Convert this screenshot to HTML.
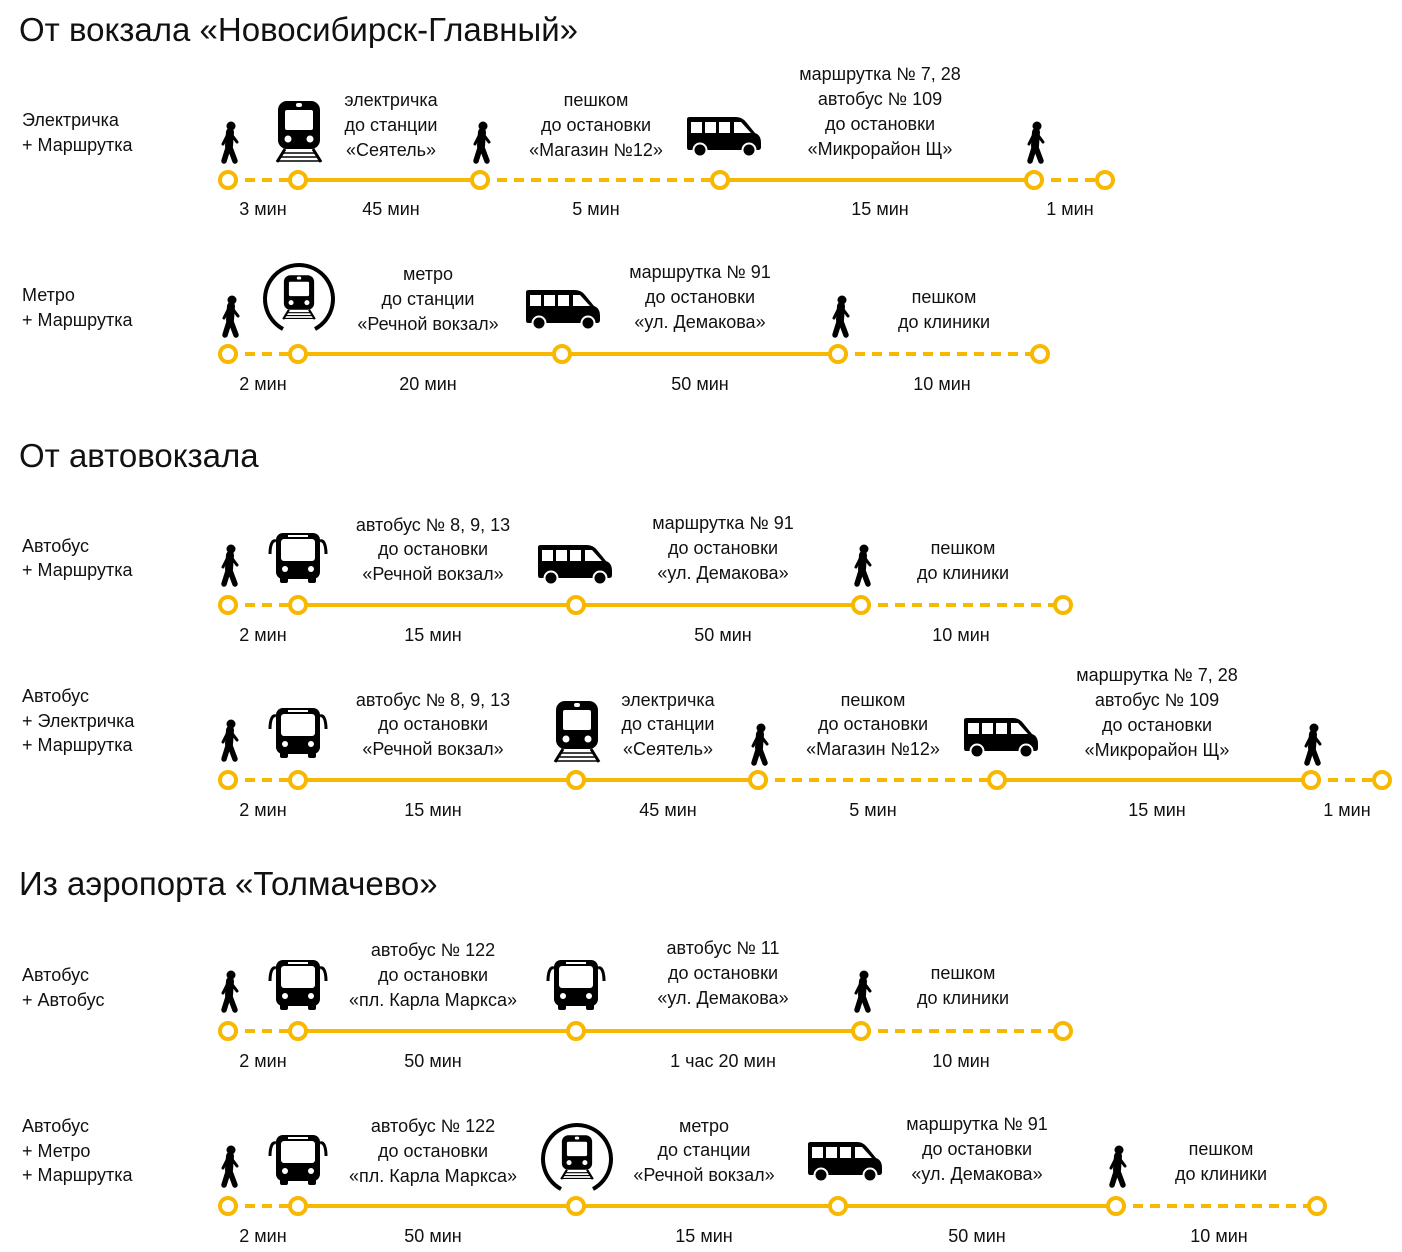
<!DOCTYPE html>
<html><head><meta charset="utf-8"><style>
html,body{margin:0;padding:0;background:#fff}
svg{display:block}
text{font-family:"Liberation Sans",sans-serif;fill:#111}
.t{font-size:33px}
.l{font-size:18px}
.c{font-size:18px;text-anchor:middle}
.y{stroke:#F9B800;stroke-width:4;fill:none}
.d{stroke-dasharray:10 7}
.n{stroke:#F9B800;stroke-width:4;fill:#fff}
</style></head><body>
<svg width="1402" height="1252" viewBox="0 0 1402 1252" xmlns="http://www.w3.org/2000/svg">
<defs>
<g id="walk">
<circle cx="2" cy="-16" r="4.5" fill="#000"/>
<path d="M1,-10 L0,4" stroke="#000" stroke-width="8" stroke-linecap="round"/>
<path d="M0,3 L-5,19 M0,3 L6,19" stroke="#000" stroke-width="5.5" stroke-linecap="round" fill="none"/>
<path d="M2,-8 L8,0 M-1,-8 L-6,2" stroke="#000" stroke-width="3" stroke-linecap="round" fill="none"/>
</g>
<g id="train">
<rect x="-21" y="-31" width="42" height="48" rx="9" fill="#000"/>
<rect x="-14" y="-22" width="28" height="20" rx="2" fill="#fff"/>
<rect x="-3" y="-29" width="6" height="4" rx="2" fill="#fff"/>
<circle cx="-11" cy="7" r="3.5" fill="#fff"/><circle cx="11" cy="7" r="3.5" fill="#fff"/>
<path d="M-14,17 L-22,30 M14,17 L22,30" stroke="#000" stroke-width="3"/>
<path d="M-16,21 H16 M-18,25 H18 M-21,29 H21" stroke="#000" stroke-width="1.6"/>
</g>
<g id="metro">
<path d="M-16,30 A34,34 0 1 1 16,30" stroke="#000" stroke-width="4" fill="none"/>
<g transform="scale(0.72) translate(0,-2)"><use href="#train"/></g>
</g>
<g id="bus">
<path d="M-22,-16 C-27,-18 -28,-8 -28,-3 M22,-16 C27,-18 28,-8 28,-3" stroke="#000" stroke-width="3" fill="none"/>
<rect x="-22" y="-24" width="44" height="46" rx="7" fill="#000"/>
<rect x="-17" y="-18" width="34" height="22" rx="3" fill="#fff"/>
<rect x="-10" y="-22" width="20" height="2" fill="#fff"/>
<circle cx="-13" cy="12" r="3" fill="#fff"/><circle cx="13" cy="12" r="3" fill="#fff"/>
<rect x="-18" y="20" width="8" height="6" rx="2" fill="#000"/><rect x="10" y="20" width="8" height="6" rx="2" fill="#000"/>
</g>
<g id="van">
<path d="M-37,-18 Q-37,-20 -34,-20 L12,-20 Q18,-20 22,-15 L31,-4 Q37,-2 37,6 L37,10 Q37,13 34,13 L-35,13 Q-37,13 -37,10 Z" fill="#000"/>
<rect x="-33" y="-15" width="11" height="11" fill="#fff"/>
<rect x="-19" y="-15" width="11" height="11" fill="#fff"/>
<rect x="-5" y="-15" width="11" height="11" fill="#fff"/>
<path d="M10,-15 L17,-15 L27,-4 L10,-4 Z" fill="#fff"/>
<circle cx="-24" cy="13" r="6.5" fill="#000" stroke="#fff" stroke-width="2"/>
<circle cx="25" cy="13" r="6.5" fill="#000" stroke="#fff" stroke-width="2"/>
</g>
</defs>

<text class="t" x="19" y="41">От вокзала «Новосибирск-Главный»</text>
<text class="t" x="19" y="467">От автовокзала</text>
<text class="t" x="19" y="895">Из аэропорта «Толмачево»</text>

<!-- Row 1 -->
<text class="l" x="22" y="126">Электричка</text><text class="l" x="22" y="151">+ Маршрутка</text>
<path class="y d" d="M228,180 H298 M480,180 H720 M1034,180 H1105"/>
<path class="y" d="M298,180 H480 M720,180 H1034"/>
<circle class="n" cx="228" cy="180" r="8"/><circle class="n" cx="298" cy="180" r="8"/><circle class="n" cx="480" cy="180" r="8"/><circle class="n" cx="720" cy="180" r="8"/><circle class="n" cx="1034" cy="180" r="8"/><circle class="n" cx="1105" cy="180" r="8"/>
<use href="#walk" x="229" y="142"/><use href="#train" x="299" y="132"/><use href="#walk" x="481" y="142"/><use href="#van" x="724" y="137"/><use href="#walk" x="1035" y="142"/>
<text class="c" x="391" y="106">электричка</text><text class="c" x="391" y="131">до станции</text><text class="c" x="391" y="156">«Сеятель»</text>
<text class="c" x="596" y="106">пешком</text><text class="c" x="596" y="131">до остановки</text><text class="c" x="596" y="156">«Магазин №12»</text>
<text class="c" x="880" y="80">маршрутка № 7, 28</text><text class="c" x="880" y="105">автобус № 109</text><text class="c" x="880" y="130">до остановки</text><text class="c" x="880" y="155">«Микрорайон Щ»</text>
<text class="c" x="263" y="215">3 мин</text><text class="c" x="391" y="215">45 мин</text><text class="c" x="596" y="215">5 мин</text><text class="c" x="880" y="215">15 мин</text><text class="c" x="1070" y="215">1 мин</text>

<!-- Row 2 -->
<text class="l" x="22" y="301">Метро</text><text class="l" x="22" y="326">+ Маршрутка</text>
<path class="y d" d="M228,354 H298 M838,354 H1040"/>
<path class="y" d="M298,354 H838"/>
<circle class="n" cx="228" cy="354" r="8"/><circle class="n" cx="298" cy="354" r="8"/><circle class="n" cx="562" cy="354" r="8"/><circle class="n" cx="838" cy="354" r="8"/><circle class="n" cx="1040" cy="354" r="8"/>
<use href="#walk" x="230" y="316"/><use href="#metro" x="299" y="299"/><use href="#van" x="563" y="310"/><use href="#walk" x="840" y="316"/>
<text class="c" x="428" y="280">метро</text><text class="c" x="428" y="305">до станции</text><text class="c" x="428" y="330">«Речной вокзал»</text>
<text class="c" x="700" y="278">маршрутка № 91</text><text class="c" x="700" y="303">до остановки</text><text class="c" x="700" y="328">«ул. Демакова»</text>
<text class="c" x="944" y="303">пешком</text><text class="c" x="944" y="328">до клиники</text>
<text class="c" x="263" y="390">2 мин</text><text class="c" x="428" y="390">20 мин</text><text class="c" x="700" y="390">50 мин</text><text class="c" x="942" y="390">10 мин</text>

<!-- Row 3 -->
<text class="l" x="22" y="552">Автобус</text><text class="l" x="22" y="576">+ Маршрутка</text>
<path class="y d" d="M228,605 H298 M861,605 H1063"/>
<path class="y" d="M298,605 H861"/>
<circle class="n" cx="228" cy="605" r="8"/><circle class="n" cx="298" cy="605" r="8"/><circle class="n" cx="576" cy="605" r="8"/><circle class="n" cx="861" cy="605" r="8"/><circle class="n" cx="1063" cy="605" r="8"/>
<use href="#walk" x="229" y="565"/><use href="#bus" x="298" y="557"/><use href="#van" x="575" y="565"/><use href="#walk" x="862" y="565"/>
<text class="c" x="433" y="531">автобус № 8, 9, 13</text><text class="c" x="433" y="555">до остановки</text><text class="c" x="433" y="580">«Речной вокзал»</text>
<text class="c" x="723" y="529">маршрутка № 91</text><text class="c" x="723" y="554">до остановки</text><text class="c" x="723" y="579">«ул. Демакова»</text>
<text class="c" x="963" y="554">пешком</text><text class="c" x="963" y="579">до клиники</text>
<text class="c" x="263" y="641">2 мин</text><text class="c" x="433" y="641">15 мин</text><text class="c" x="723" y="641">50 мин</text><text class="c" x="961" y="641">10 мин</text>

<!-- Row 4 -->
<text class="l" x="22" y="702">Автобус</text><text class="l" x="22" y="727">+ Электричка</text><text class="l" x="22" y="751">+ Маршрутка</text>
<path class="y d" d="M228,780 H298 M758,780 H997 M1311,780 H1382"/>
<path class="y" d="M298,780 H758 M997,780 H1311"/>
<circle class="n" cx="228" cy="780" r="8"/><circle class="n" cx="298" cy="780" r="8"/><circle class="n" cx="576" cy="780" r="8"/><circle class="n" cx="758" cy="780" r="8"/><circle class="n" cx="997" cy="780" r="8"/><circle class="n" cx="1311" cy="780" r="8"/><circle class="n" cx="1382" cy="780" r="8"/>
<use href="#walk" x="229" y="740"/><use href="#bus" x="298" y="732"/><use href="#train" x="577" y="732"/><use href="#walk" x="759" y="744"/><use href="#van" x="1001" y="738"/><use href="#walk" x="1312" y="744"/>
<text class="c" x="433" y="706">автобус № 8, 9, 13</text><text class="c" x="433" y="730">до остановки</text><text class="c" x="433" y="755">«Речной вокзал»</text>
<text class="c" x="668" y="706">электричка</text><text class="c" x="668" y="730">до станции</text><text class="c" x="668" y="755">«Сеятель»</text>
<text class="c" x="873" y="706">пешком</text><text class="c" x="873" y="730">до остановки</text><text class="c" x="873" y="755">«Магазин №12»</text>
<text class="c" x="1157" y="681">маршрутка № 7, 28</text><text class="c" x="1157" y="706">автобус № 109</text><text class="c" x="1157" y="731">до остановки</text><text class="c" x="1157" y="756">«Микрорайон Щ»</text>
<text class="c" x="263" y="816">2 мин</text><text class="c" x="433" y="816">15 мин</text><text class="c" x="668" y="816">45 мин</text><text class="c" x="873" y="816">5 мин</text><text class="c" x="1157" y="816">15 мин</text><text class="c" x="1347" y="816">1 мин</text>

<!-- Row 5 -->
<text class="l" x="22" y="981">Автобус</text><text class="l" x="22" y="1006">+ Автобус</text>
<path class="y d" d="M228,1031 H298 M861,1031 H1063"/>
<path class="y" d="M298,1031 H861"/>
<circle class="n" cx="228" cy="1031" r="8"/><circle class="n" cx="298" cy="1031" r="8"/><circle class="n" cx="576" cy="1031" r="8"/><circle class="n" cx="861" cy="1031" r="8"/><circle class="n" cx="1063" cy="1031" r="8"/>
<use href="#walk" x="229" y="991"/><use href="#bus" x="298" y="984"/><use href="#bus" x="576" y="984"/><use href="#walk" x="862" y="991"/>
<text class="c" x="433" y="956">автобус № 122</text><text class="c" x="433" y="981">до остановки</text><text class="c" x="433" y="1006">«пл. Карла Маркса»</text>
<text class="c" x="723" y="954">автобус № 11</text><text class="c" x="723" y="979">до остановки</text><text class="c" x="723" y="1004">«ул. Демакова»</text>
<text class="c" x="963" y="979">пешком</text><text class="c" x="963" y="1004">до клиники</text>
<text class="c" x="263" y="1067">2 мин</text><text class="c" x="433" y="1067">50 мин</text><text class="c" x="723" y="1067">1 час 20 мин</text><text class="c" x="961" y="1067">10 мин</text>

<!-- Row 6 -->
<text class="l" x="22" y="1132">Автобус</text><text class="l" x="22" y="1157">+ Метро</text><text class="l" x="22" y="1181">+ Маршрутка</text>
<path class="y d" d="M228,1206 H298 M1116,1206 H1317"/>
<path class="y" d="M298,1206 H1116"/>
<circle class="n" cx="228" cy="1206" r="8"/><circle class="n" cx="298" cy="1206" r="8"/><circle class="n" cx="576" cy="1206" r="8"/><circle class="n" cx="838" cy="1206" r="8"/><circle class="n" cx="1116" cy="1206" r="8"/><circle class="n" cx="1317" cy="1206" r="8"/>
<use href="#walk" x="229" y="1166"/><use href="#bus" x="298" y="1159"/><use href="#metro" x="577" y="1159"/><use href="#van" x="845" y="1162"/><use href="#walk" x="1117" y="1166"/>
<text class="c" x="433" y="1132">автобус № 122</text><text class="c" x="433" y="1157">до остановки</text><text class="c" x="433" y="1182">«пл. Карла Маркса»</text>
<text class="c" x="704" y="1132">метро</text><text class="c" x="704" y="1156">до станции</text><text class="c" x="704" y="1181">«Речной вокзал»</text>
<text class="c" x="977" y="1130">маршрутка № 91</text><text class="c" x="977" y="1155">до остановки</text><text class="c" x="977" y="1180">«ул. Демакова»</text>
<text class="c" x="1221" y="1155">пешком</text><text class="c" x="1221" y="1180">до клиники</text>
<text class="c" x="263" y="1242">2 мин</text><text class="c" x="433" y="1242">50 мин</text><text class="c" x="704" y="1242">15 мин</text><text class="c" x="977" y="1242">50 мин</text><text class="c" x="1219" y="1242">10 мин</text>
</svg>
</body></html>
